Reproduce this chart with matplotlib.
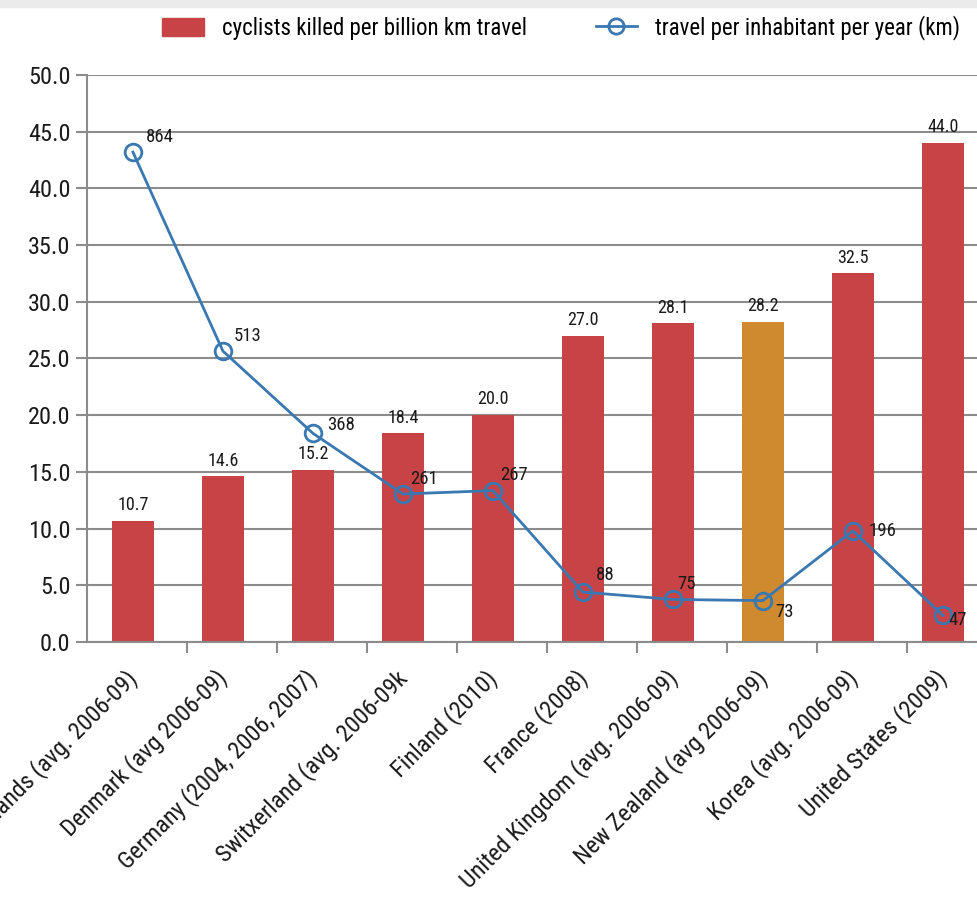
import numpy as np
import matplotlib
matplotlib.use("Agg")
from matplotlib import pyplot as plt
from matplotlib.patches import Patch, Rectangle
from matplotlib.lines import Line2D
from matplotlib.transforms import ScaledTranslation

plt.rcParams['font.family'] = ['Roboto Condensed', 'Liberation Sans', 'DejaVu Sans']

countries = ['Netherlands (avg. 2006-09)', 'Denmark (avg 2006-09)', 'Germany (2004, 2006, 2007)',
             'Switxerland (avg. 2006-09k', 'Finland (2010)', 'France (2008)',
             'United Kingdom (avg. 2006-09)', 'New Zealand (avg 2006-09)',
             'Korea (avg. 2006-09)', 'United States (2009)']
killed = [10.7, 14.6, 15.2, 18.4, 20.0, 27.0, 28.1, 28.2, 32.5, 44.0]
killed_labels = ['10.7', '14.6', '15.2', '18.4', '20.0', '27.0', '28.1', '28.2', '32.5', '44.0']
travel = [864, 513, 368, 261, 267, 88, 75, 73, 196, 47]

redColor = '#C84346'
nzColor = '#CF8A2F'
lineColor = '#3A78B2'
gridColor = '#8C8C8C'
textColor = '#1a1a1a'

fig = plt.figure(figsize=(9.78, 8.97), dpi=100)
# light strip along the top edge of the screenshot
fig.patches.append(Rectangle((0, 0.992), 1, 0.008, transform=fig.transFigure,
                             color='#EBEBEB', zorder=0))

ax1 = fig.add_axes([0.089, 0.2843, 0.911, 0.6321])
x = np.arange(len(countries))
colors = [nzColor if c.startswith('New Zealand') else redColor for c in countries]
ax1.bar(x, killed, width=0.47, color=colors, zorder=2)
for xi, v, lab in zip(x, killed, killed_labels):
    ax1.text(xi, v + 0.6, lab, ha='center', va='bottom', fontsize=13, color=textColor)

ax1.set_ylim(0, 50)
ax1.set_xlim(-0.51, 9.39)
ax1.set_yticks(np.arange(0, 50.1, 5))
ax1.set_yticklabels(['%.1f' % t for t in np.arange(0, 50.1, 5)], fontsize=17.5, color=textColor)
ax1.yaxis.grid(True, color=gridColor, linewidth=1.5, zorder=0)
ax1.set_axisbelow(True)
for s in ['top', 'right']:
    ax1.spines[s].set_visible(False)
for s in ['left', 'bottom']:
    ax1.spines[s].set_color(gridColor)
    ax1.spines[s].set_linewidth(1.5)
ax1.tick_params(axis='y', length=8, width=1.5, color=gridColor, pad=4)

# category labels at bar centers, boundary ticks as minor ticks
ax1.set_xticks(x)
ax1.set_xticklabels(countries, rotation=45, ha='right', rotation_mode='anchor',
                    fontsize=17.5, color=textColor)
ax1.tick_params(axis='x', which='major', length=0, pad=17)
shift = ScaledTranslation(-8 / 100, 0, fig.dpi_scale_trans)
for lab in ax1.get_xticklabels():
    lab.set_transform(lab.get_transform() + shift)
ax1.set_xticks(x[:-1] + 0.6, minor=True)
ax1.tick_params(axis='x', which='minor', length=8, width=1.5, color=gridColor)

ax2 = ax1.twinx()
ax2.set_ylim(0, 1000)
ax2.set_xlim(-0.51, 9.39)
ax2.axis('off')
ax2.plot(x, travel, color=lineColor, linewidth=2, marker='o', markersize=12,
         markerfacecolor='none', markeredgewidth=2, zorder=3)
offsets = [(9, 11), (8, 11), (10, 6), (5, 11), (5, 11), (9, 12),
           (3, 11), (9, -8), (11.5, 0), (4, -3.5)]
for xi, v, (dx, dy) in zip(x, travel, offsets):
    ax2.annotate(str(v), (xi, v), xytext=(dx, dy), textcoords='offset points',
                 ha='left', va='center', fontsize=13.5, color=textColor)

handles = [Patch(color=redColor),
           Line2D([0], [0], color=lineColor, linewidth=2, marker='o', markersize=11,
                  markerfacecolor='none', markeredgewidth=2)]
fig.legend(handles, ['cyclists killed per billion km travel', 'travel per inhabitant per year (km)'],
           loc='center', bbox_to_anchor=(0.574, 0.969), ncol=2, frameon=False, fontsize=16.5,
           handlelength=1.8, handleheight=0.8, columnspacing=3.0, handletextpad=0.8)

fig.savefig('out.png', dpi=100)
